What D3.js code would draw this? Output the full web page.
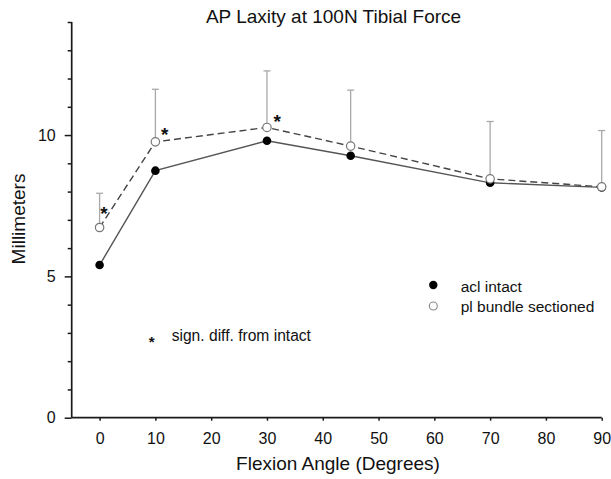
<!DOCTYPE html>
<html><head><meta charset="utf-8">
<script src="https://cdn.jsdelivr.net/npm/d3@7"></script>
<style>
html,body{margin:0;padding:0;background:#fff;}
svg{display:block;font-family:"Liberation Sans",Arial,sans-serif;}
</style></head>
<body>
<svg id="c" width="611" height="479"></svg>
<script>
const angles = [0, 10, 30, 45, 70, 90];
const intact = [5.40, 8.74, 9.80, 9.27, 8.31, 8.15];
const sectioned = [6.73, 9.76, 10.27, 9.61, 8.45, 8.17];
const sectionedSD = [1.21, 1.86, 2.00, 1.98, 2.03, 1.99];
const starAngles = [0, 10, 30];
const xTicks = [0, 10, 20, 30, 40, 50, 60, 70, 80, 90];
const yTicks = d3.range(0, 15, 1);
const yLabels = [0, 5, 10];
const seriesNames = ["acl intact", "pl bundle sectioned"];
const title = "AP Laxity at 100N Tibial Force";
const xTitle = "Flexion Angle (Degrees)";
const yTitle = "Millimeters";
const noteText = "sign. diff. from intact";

const svg = d3.select("#c");
const x = d3.scaleLinear().domain([-5, 90]).range([71.7, 601.7]);
const y = d3.scaleLinear().domain([0, 14]).range([417.7, 22]);

// axes
const yAxis = d3.axisLeft(y).tickValues(yTicks)
  .tickSize(4).tickPadding(9)
  .tickFormat(d => yLabels.includes(d) ? d : "");
const gy = svg.append("g").attr("transform", `translate(${x(-5)},0)`).call(yAxis);
gy.select(".domain").attr("d", `M0,${y(14)}V${y(0)}`).attr("stroke", "#1a1a1a").attr("stroke-width", 1.7);
gy.selectAll(".tick line").attr("stroke", "#1a1a1a").attr("stroke-width", 1.5)
  .attr("x2", d => yLabels.includes(d) ? -7 : -4);
gy.selectAll(".tick text").attr("font-size", 16).attr("fill", "#111").attr("x", -16);

const xAxis = d3.axisBottom(x).tickValues(xTicks).tickSize(3).tickPadding(12);
const gx = svg.append("g").attr("transform", `translate(0,${y(0)})`).call(xAxis);
gx.select(".domain").attr("d", `M${x(-5)},0H${x(90)}`).attr("stroke", "#1a1a1a").attr("stroke-width", 1.7);
gx.selectAll(".tick line").attr("stroke", "#1a1a1a").attr("stroke-width", 1.5);
gx.selectAll(".tick text").attr("font-size", 16).attr("fill", "#111");

// titles
svg.append("text").attr("x", 333.5).attr("y", 23).attr("text-anchor", "middle")
  .attr("font-size", 19).attr("fill", "#111").text(title);
svg.append("text").attr("x", 338).attr("y", 470).attr("text-anchor", "middle")
  .attr("font-size", 19).attr("fill", "#111").text(xTitle);
svg.append("text").attr("transform", `translate(25,219) rotate(-90)`).attr("text-anchor", "middle")
  .attr("font-size", 19).attr("fill", "#111").text(yTitle);

// error bars (upper only, sectioned)
const eb = svg.append("g").attr("stroke", "#a8a8a8").attr("stroke-width", 1.3).attr("fill", "none");
angles.forEach((a, i) => {
  const top = sectioned[i] + sectionedSD[i];
  eb.append("line").attr("x1", x(a)).attr("x2", x(a)).attr("y1", y(sectioned[i])).attr("y2", y(top));
  eb.append("line").attr("x1", x(a) - 3.5).attr("x2", x(a) + 3.5).attr("y1", y(top)).attr("y2", y(top));
});

// lines
const line = d3.line().x(d => x(d[0])).y(d => y(d[1]));
svg.append("path").datum(angles.map((a, i) => [a, intact[i]]))
  .attr("d", line).attr("fill", "none").attr("stroke", "#555").attr("stroke-width", 1.4);
svg.append("path").datum(angles.map((a, i) => [a, sectioned[i]]))
  .attr("d", line).attr("fill", "none").attr("stroke", "#444").attr("stroke-width", 1.4)
  .attr("stroke-dasharray", "7,4");

// points
svg.append("g").selectAll("circle").data(angles.map((a, i) => [a, intact[i]])).join("circle")
  .attr("cx", d => x(d[0])).attr("cy", d => y(d[1])).attr("r", 4.3).attr("fill", "#000");
svg.append("g").selectAll("circle").data(angles.map((a, i) => [a, sectioned[i]])).join("circle")
  .attr("cx", d => x(d[0])).attr("cy", d => y(d[1])).attr("r", 4.2)
  .attr("fill", "#fff").attr("stroke", "#777").attr("stroke-width", 1.2);

// significance stars
const starOffsets = {0: [4.3, -18.4], 10: [9.3, -11.7], 30: [10.2, -10.3]};
starAngles.forEach(a => {
  const i = angles.indexOf(a);
  const o = starOffsets[a];
  svg.append("text").attr("x", x(a) + o[0]).attr("y", y(sectioned[i]) + o[1] + 10.5)
    .attr("text-anchor", "middle").attr("font-size", 19).attr("font-weight", "bold")
    .attr("fill", "#111").text("*");
});

// legend
svg.append("circle").attr("cx", 433.3).attr("cy", 285).attr("r", 4.2).attr("fill", "#000");
svg.append("circle").attr("cx", 433.3).attr("cy", 306).attr("r", 4).attr("fill", "#fff")
  .attr("stroke", "#888").attr("stroke-width", 1.1);
svg.append("text").attr("x", 460.7).attr("y", 291.5).attr("font-size", 15.5).attr("fill", "#111").text(seriesNames[0]);
svg.append("text").attr("x", 460.7).attr("y", 312).attr("font-size", 15.5).attr("fill", "#111").text(seriesNames[1]);
svg.append("text").attr("x", 151.7).attr("y", 338.3 + 8.5).attr("text-anchor", "middle")
  .attr("font-size", 15).attr("font-weight", "bold").attr("fill", "#111").text("*");
svg.append("text").attr("x", 171.7).attr("y", 340.7).attr("font-size", 15.6).attr("fill", "#111").text(noteText);
</script>
</body></html>
